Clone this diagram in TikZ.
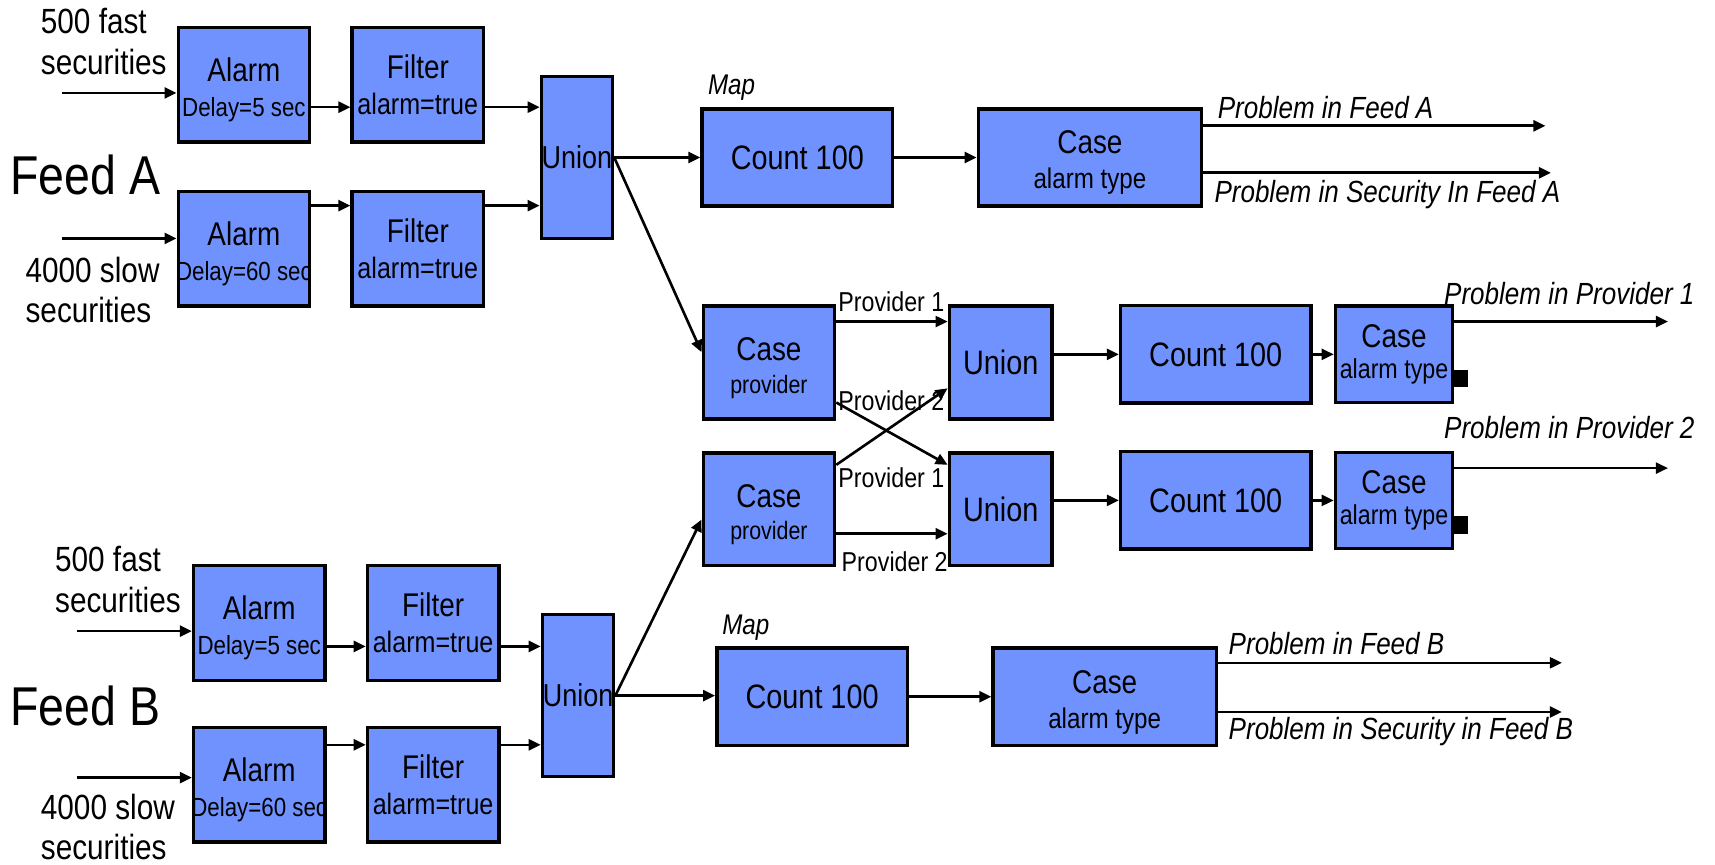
\documentclass[tikz,border=0pt]{standalone}
\usepackage{fontspec}
\setmainfont{Liberation Sans}[FakeStretch=0.85]
\usepackage{tikz}
\usetikzlibrary{arrows.meta,calc}
\definecolor{opblue}{RGB}{112,146,255}
\newcommand{\fsz}[2]{\fontsize{#1}{#2}\selectfont}
\newcommand{\ovf}[1]{\makebox[0pt]{#1}}
\newcommand{\topgap}{\rule{0pt}{15.5pt}}

\begin{document}
\begin{tikzpicture}[
    x=0.5pt, y=-0.5pt,
    op/.style={draw, line width=1.6pt, fill=opblue, inner sep=0pt, align=center},
    alarmbox/.style={op, minimum width=60pt, minimum height=52.5pt},
    unionbox/.style={op, minimum width=32.5pt, minimum height=74pt},
    countbox/.style={op, minimum width=87pt, minimum height=44.5pt},
    casebox/.style={op, minimum width=102pt, minimum height=44.5pt},
    provbox/.style={op, minimum width=60pt, minimum height=51.5pt},
    smallunion/.style={op, minimum width=47pt, minimum height=51.5pt},
    smallcase/.style={op, minimum width=53.5pt, minimum height=44pt},
    port/.style={fill=black, inner sep=0pt, minimum width=7pt, minimum height=8pt},
    arrow/.style={-{Triangle[length=5.5pt, width=5pt]}, line width=1.2pt},
    feed/.style={font=\fsz{25}{28}, inner sep=0pt},
    src/.style={font=\fsz{16}{18.5}, align=left, inner sep=0pt, anchor=west},
    outlabel/.style={font=\fsz{14}{16}\itshape, inner sep=0pt, anchor=west},
    maplabel/.style={font=\fsz{13}{15}\itshape, inner sep=0pt, anchor=west},
    plabel/.style={font=\fsz{12.5}{14}, inner sep=0pt},
]
\useasboundingbox (0,0) rectangle (1568,790);

% Feed A
\node[feed] (feedA) at (78,160) {Feed A};
\node[src] (srcA1) at (37,38) {500 fast\\securities};
\node[src] (srcA2) at (23,265) {4000 slow\\securities};
\coordinate (inA1) at (57,85);
\coordinate (inA2) at (57,218);

\node[alarmbox] (alarmA1) at (223,77.5) {\fsz{15}{17}\topgap Alarm\\[4pt]\fsz{12}{14}\ovf{Delay=5 sec}};
\node[alarmbox] (filterA1) at (382,77.5) {\fsz{15}{17}Filter\\[4.5pt]\fsz{13.5}{15}\ovf{alarm=true}};
\node[alarmbox] (alarmA2) at (223,227.5) {\fsz{15}{17}\topgap Alarm\\[4pt]\fsz{12}{14}\ovf{Delay=60 sec}};
\node[alarmbox] (filterA2) at (382,227.5) {\fsz{15}{17}Filter\\[4.5pt]\fsz{13.5}{15}\ovf{alarm=true}};
\node[unionbox] (unionA) at (527.5,144) {\fsz{14.5}{17}\ovf{Union}};

\node[countbox] (countA) at (729,144) {\fsz{15.5}{18}Count 100};
\node[casebox] (caseA) at (996.5,144) {\fsz{15}{17}\topgap Case\\[4pt]\fsz{13}{15}alarm type};
\node[maplabel] (mapA) at (647,80) {Map};

\draw[arrow] (inA1) -- (alarmA1.west |- inA1);
\draw[arrow] (alarmA1.east |- 0,98) -- (filterA1.west |- 0,98);
\draw[arrow] (filterA1.east |- 0,98) -- (unionA.west |- 0,98);
\draw[arrow] (inA2) -- (alarmA2.west |- inA2);
\draw[arrow] (alarmA2.east |- 0,188) -- (filterA2.west |- 0,188);
\draw[arrow] (filterA2.east |- 0,188) -- (unionA.west |- 0,188);
\draw[arrow] (unionA.east) -- (countA.west);
\draw[arrow] (countA) -- (caseA);

\coordinate (outA1) at (1413,115);
\coordinate (outA2) at (1418,158);
\draw[arrow] (caseA.east |- outA1) -- (outA1);
\draw[arrow] (caseA.east |- outA2) -- (outA2);
\node[outlabel] (lblA1) at (1113,98) {Problem in Feed A};
\node[outlabel] (lblA2) at (1110,178) {Problem in Security In Feed A};

% Providers
\node[provbox] (cp1) at (703,331.5) {\fsz{15}{17}\topgap Case\\[3pt]\fsz{11.5}{13}provider};
\node[provbox] (cp2) at (703,465.5) {\fsz{15}{17}\topgap Case\\[3pt]\fsz{11.5}{13}provider};
\node[smallunion] (up1) at (915,331.5) {\fsz{15.5}{18}Union};
\node[smallunion] (up2) at (915,465.5) {\fsz{15.5}{18}Union};
\node[countbox] (countP1) at (1111.5,324) {\fsz{15.5}{18}Count 100};
\node[countbox] (countP2) at (1111.5,457.5) {\fsz{15.5}{18}Count 100};
\node[smallcase] (caseP1) at (1274.5,324) {\fsz{15}{17}Case\\[2.5pt]\fsz{12.5}{14}alarm type};
\node[smallcase] (caseP2) at (1274.5,457.5) {\fsz{15}{17}Case\\[2.5pt]\fsz{12.5}{14}alarm type};
\node[port] (portP1) at (1335,346) {};
\node[port] (portP2) at (1335,480) {};

\draw[arrow] (unionA.east) -- (cp1.west |- 0,322);
\draw[arrow] (cp1.east |- 0,294) -- (up1.west |- 0,294);
\draw[arrow] (cp1.east |- 0,368) -- (up2.west |- 0,425);
\draw[arrow] (cp2.east |- 0,425) -- (up1.west |- 0,355);
\draw[arrow] (cp2.east |- 0,488) -- (up2.west |- 0,488);
\node[plabel] (pl1) at (815,276) {Provider 1};
\node[plabel] (pl2) at (815,366) {Provider 2};
\node[plabel] (pl3) at (815,437) {Provider 1};
\node[plabel] (pl4) at (818,514) {Provider 2};

\draw[arrow] (up1.east |- countP1) -- (countP1.west);
\draw[arrow] (up2.east |- countP2) -- (countP2.west);
\draw[arrow] (countP1) -- (caseP1);
\draw[arrow] (countP2) -- (caseP2);

\coordinate (outP1) at (1525,294);
\coordinate (outP2) at (1525,428);
\draw[arrow] (caseP1.east |- outP1) -- (outP1);
\draw[arrow] (caseP2.east |- outP2) -- (outP2);
\node[outlabel] (lblP1) at (1320,268) {Problem in Provider 1};
\node[outlabel] (lblP2) at (1320,391) {Problem in Provider 2};

% Feed B
\node[feed] (feedB) at (78,645) {Feed B};
\node[src] (srcB1) at (50,530) {500 fast\\securities};
\node[src] (srcB2) at (37,756) {4000 slow\\securities};
\coordinate (inB1) at (70,577);
\coordinate (inB2) at (70,711);

\node[alarmbox] (alarmB1) at (237,569.5) {\fsz{15}{17}\topgap Alarm\\[4pt]\fsz{12}{14}\ovf{Delay=5 sec}};
\node[alarmbox] (filterB1) at (396,569.5) {\fsz{15}{17}Filter\\[4.5pt]\fsz{13.5}{15}\ovf{alarm=true}};
\node[alarmbox] (alarmB2) at (237,717.5) {\fsz{15}{17}\topgap Alarm\\[4pt]\fsz{12}{14}\ovf{Delay=60 sec}};
\node[alarmbox] (filterB2) at (396,717.5) {\fsz{15}{17}Filter\\[4.5pt]\fsz{13.5}{15}\ovf{alarm=true}};
\node[unionbox] (unionB) at (528.5,636) {\fsz{14.5}{17}\ovf{Union}};

\node[countbox] (countB) at (742.5,637) {\fsz{15.5}{18}Count 100};
\node[casebox] (caseB) at (1010,637) {\fsz{15}{17}\topgap Case\\[4pt]\fsz{13}{15}alarm type};
\node[maplabel] (mapB) at (660,574) {Map};

\draw[arrow] (inB1) -- (alarmB1.west |- inB1);
\draw[arrow] (alarmB1.east |- 0,591) -- (filterB1.west |- 0,591);
\draw[arrow] (filterB1.east |- 0,591) -- (unionB.west |- 0,591);
\draw[arrow] (inB2) -- (alarmB2.west |- inB2);
\draw[arrow] (alarmB2.east |- 0,681) -- (filterB2.west |- 0,681);
\draw[arrow] (filterB2.east |- 0,681) -- (unionB.west |- 0,681);
\draw[arrow] (unionB.east) -- (countB.west |- unionB.east);
\draw[arrow] (unionB.east) -- (cp2.west |- 0,475);
\draw[arrow] (countB) -- (caseB);

\coordinate (outB1) at (1428,606);
\coordinate (outB2) at (1428,651);
\draw[arrow] (caseB.east |- outB1) -- (outB1);
\draw[arrow] (caseB.east |- outB2) -- (outB2);
\node[outlabel] (lblB1) at (1123,588) {Problem in Feed B};
\node[outlabel] (lblB2) at (1123,669) {Problem in Security in Feed B};

\end{tikzpicture}
\end{document}
